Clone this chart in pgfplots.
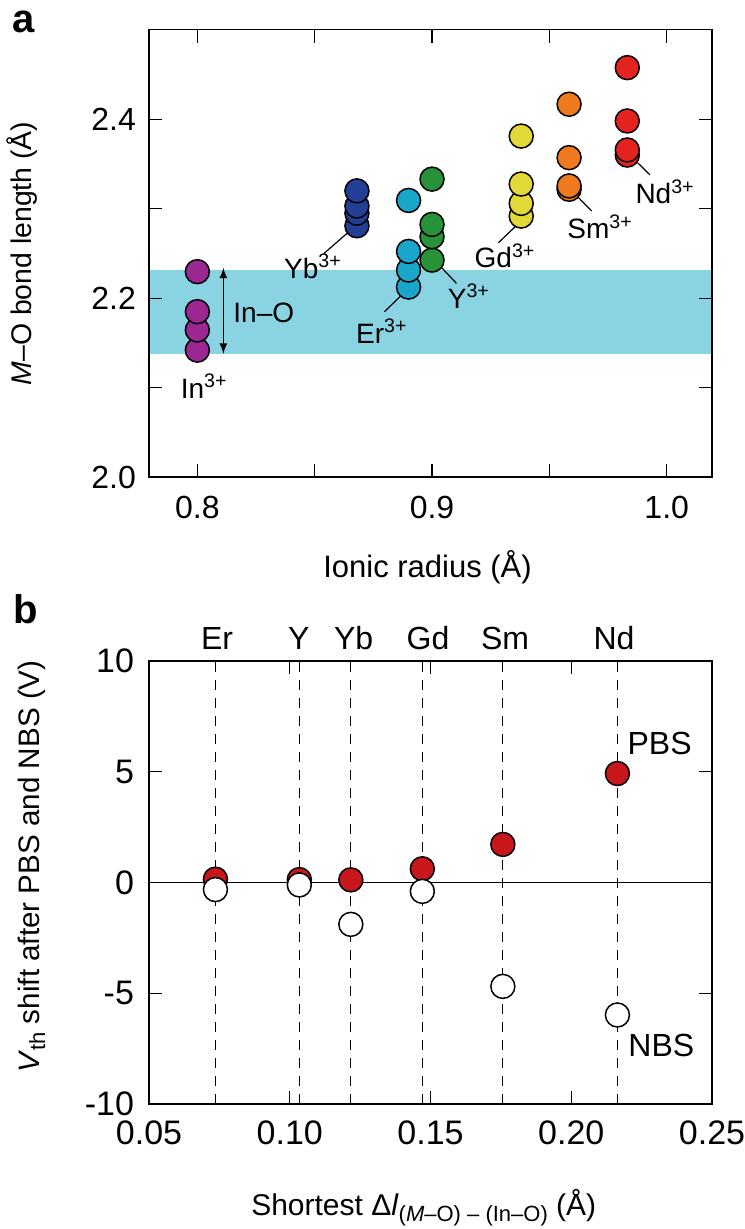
\documentclass[border=0pt]{standalone}
\usepackage{fontspec}
\setmainfont{Liberation Sans}
\usepackage{pgfplots}
\pgfplotsset{compat=1.18}
\definecolor{cIn}{HTML}{9B2790}
\definecolor{cYb}{HTML}{233F95}
\definecolor{cEr}{HTML}{1AA6CB}
\definecolor{cY}{HTML}{279237}
\definecolor{cGd}{HTML}{E3D936}
\definecolor{cSm}{HTML}{EF7A1E}
\definecolor{cNd}{HTML}{E42320}
\definecolor{cPBS}{HTML}{C8161D}
\definecolor{cBand}{HTML}{8AD3E3}
\newcommand{\ion}[1]{#1\textsuperscript{3+}}
\newcommand{\annfont}{\fontsize{14}{16}\selectfont}
\newcommand{\annfontb}{\fontsize{16}{18}\selectfont}
\pgfplotsset{
  common/.style={
    scale only axis, width=281.5pt,
    tick align=inside, major tick length=6.5pt, minor tick length=6.5pt,
    every tick/.style={black, line width=0.7pt},
    axis line style={line width=0.7pt},
    clip=false, axis on top,
  },
  dot/.style={only marks, mark=*, mark size=6pt, mark options={fill=#1, draw=black, line width=0.75pt}},
}
\begin{document}
\begin{tikzpicture}
\useasboundingbox (0,0) rectangle (372pt,614.5pt);
% ---------------- panel a ----------------
\begin{axis}[common,
  at={(74.5pt,375.9pt)}, anchor=south west, height=223.7pt,
  xmin=0.7794, xmax=1.0193, ymin=2.0, ymax=2.5,
  xtick={0.8,0.9,1.0}, xticklabels={0.8,0.9,1.0}, minor xtick={0.85,0.95},
  ytick={2.0,2.2,2.4}, yticklabels={2.0,2.2,2.4}, minor ytick={2.1,2.3},
  tick label style={font=\fontsize{16}{18}\selectfont},
  xticklabel style={yshift=-6pt},
  yticklabel style={xshift=-3pt},
  xlabel={Ionic radius (Å)},
  xlabel style={font=\fontsize{15.5}{18}\selectfont, at={(axis description cs:0.4947,-0.2253)}, anchor=base},
  ylabel={\textit{M}–O bond length (Å)},
  ylabel style={font=\fontsize{14.2}{16}\selectfont, at={(axis description cs:-0.226,0.5)}, anchor=center},
]
\fill[cBand] (axis cs:0.7794,2.138) rectangle (axis cs:1.0193,2.232);
\addplot[dot=cIn] coordinates {(0.8,2.142) (0.8,2.1645) (0.8,2.185) (0.8,2.2297)};
\addplot[dot=cYb] coordinates {(0.868,2.281) (0.868,2.295) (0.868,2.303) (0.868,2.320)};
\addplot[dot=cEr] coordinates {(0.890,2.2125) (0.890,2.2315) (0.890,2.2523) (0.890,2.3093)};
\addplot[dot=cY] coordinates {(0.900,2.2426) (0.900,2.2687) (0.900,2.2825) (0.900,2.3331)};
\addplot[dot=cGd] coordinates {(0.938,2.2918) (0.938,2.306) (0.938,2.3276) (0.938,2.3812)};
\addplot[dot=cSm] coordinates {(0.9584,2.3218) (0.9584,2.3255) (0.9584,2.3571) (0.9584,2.4168)};
\addplot[dot=cNd] coordinates {(0.9832,2.360) (0.9832,2.3657) (0.9832,2.3981) (0.9832,2.4577)};
% leader lines
\addplot[black, line width=0.6pt] coordinates {(0.8654,2.2762) (0.8540,2.2501)};
\addplot[black, line width=0.6pt] coordinates {(0.8900,2.2110) (0.8797,2.1849)};
\addplot[black, line width=0.6pt] coordinates {(0.9011,2.2426) (0.9104,2.2166)};
\addplot[black, line width=0.6pt] coordinates {(0.9383,2.2873) (0.9283,2.2620)};
\addplot[black, line width=0.6pt] coordinates {(0.9585,2.3229) (0.9680,2.2975)};
\addplot[black, line width=0.6pt] coordinates {(0.9832,2.3627) (0.9929,2.3378)};
% In-O arrow
\addplot[black, line width=0.8pt, <->, >={latex}] coordinates {(0.8111,2.138) (0.8111,2.234)};
\node[anchor=base, font=\annfont] at (axis cs:0.8283,2.1726) {In–O};
\node[anchor=base, font=\annfont] at (axis cs:0.8029,2.0881) {\ion{In}};
\node[anchor=base, font=\annfont] at (axis cs:0.8493,2.2222) {\ion{Yb}};
\node[anchor=base, font=\annfont] at (axis cs:0.8786,2.1495) {\ion{Er}};
\node[anchor=base, font=\annfont] at (axis cs:0.9157,2.1886) {\ion{Y}};
\node[anchor=base, font=\annfont] at (axis cs:0.9311,2.2341) {\ion{Gd}};
\node[anchor=base, font=\annfont] at (axis cs:0.9716,2.2665) {\ion{Sm}};
\node[anchor=base, font=\annfont] at (axis cs:0.9993,2.3054) {\ion{Nd}};
\end{axis}
% ---------------- panel b ----------------
\begin{axis}[common,
  at={(74.5pt,62.5pt)}, anchor=south west, height=221.5pt,
  xmin=0.05, xmax=0.25, ymin=-10, ymax=10,
  xtick={0.05,0.10,0.15,0.20,0.25}, xticklabels={0.05,0.10,0.15,0.20,0.25},
  ytick={-10,-5,0,5,10}, yticklabels={-10,-5,0,5,10},
  tick label style={font=\fontsize{17}{19}\selectfont},
  xticklabel style={yshift=-5pt},
  yticklabel style={xshift=-4pt},
  xlabel={Shortest Δ\textit{l}\raisebox{-0.4ex}{\fontsize{11}{12}\selectfont(\textit{M}–O) – (In–O)} (Å)},
  xlabel style={font=\fontsize{15}{18}\selectfont, at={(axis description cs:0.488,-0.2506)}, anchor=base},
  ylabel={\textit{V}\raisebox{-0.35ex}{\fontsize{11}{12}\selectfont th} shift after PBS and NBS (V)},
  ylabel style={font=\fontsize{14.8}{17}\selectfont, at={(axis description cs:-0.208,0.536)}, anchor=center},
]
\addplot[black, dash pattern=on 5pt off 4pt, line width=0.55pt] coordinates {(0.0736,-10) (0.0736,10)};
\addplot[black, dash pattern=on 5pt off 4pt, line width=0.55pt] coordinates {(0.1034,-10) (0.1034,10)};
\addplot[black, dash pattern=on 5pt off 4pt, line width=0.55pt] coordinates {(0.1217,-10) (0.1217,10)};
\addplot[black, dash pattern=on 5pt off 4pt, line width=0.55pt] coordinates {(0.1471,-10) (0.1471,10)};
\addplot[black, dash pattern=on 5pt off 4pt, line width=0.55pt] coordinates {(0.1757,-10) (0.1757,10)};
\addplot[black, dash pattern=on 5pt off 4pt, line width=0.55pt] coordinates {(0.2164,-10) (0.2164,10)};
\addplot[black, line width=0.7pt] coordinates {(0.05,0) (0.25,0)};
\addplot[dot=cPBS] coordinates {(0.0736,0.15) (0.1034,0.13) (0.1217,0.12) (0.1471,0.62) (0.1757,1.72) (0.2164,4.92)};
\addplot[dot=white] coordinates {(0.0736,-0.32) (0.1034,-0.11) (0.1217,-1.89) (0.1471,-0.40) (0.1757,-4.69) (0.2164,-5.98)};
\node[anchor=base, font=\annfontb] at (axis cs:0.0742,10.54) {Er};
\node[anchor=base, font=\annfontb] at (axis cs:0.1032,10.54) {Y};
\node[anchor=base, font=\annfontb] at (axis cs:0.1227,10.54) {Yb};
\node[anchor=base, font=\annfontb] at (axis cs:0.1491,10.54) {Gd};
\node[anchor=base, font=\annfontb] at (axis cs:0.1765,10.54) {Sm};
\node[anchor=base, font=\annfontb] at (axis cs:0.2152,10.54) {Nd};
\node[anchor=base, font=\annfontb] at (axis cs:0.2314,5.77) {PBS};
\node[anchor=base, font=\annfontb] at (axis cs:0.2320,-7.86) {NBS};
\end{axis}
\node[anchor=base west, inner sep=0pt, font=\fontsize{20}{22}\selectfont\bfseries] at (6pt,598pt) {a};
\node[anchor=base west, inner sep=0pt, font=\fontsize{20}{22}\selectfont\bfseries] at (6.5pt,302.8pt) {b};
\end{tikzpicture}
\end{document}
